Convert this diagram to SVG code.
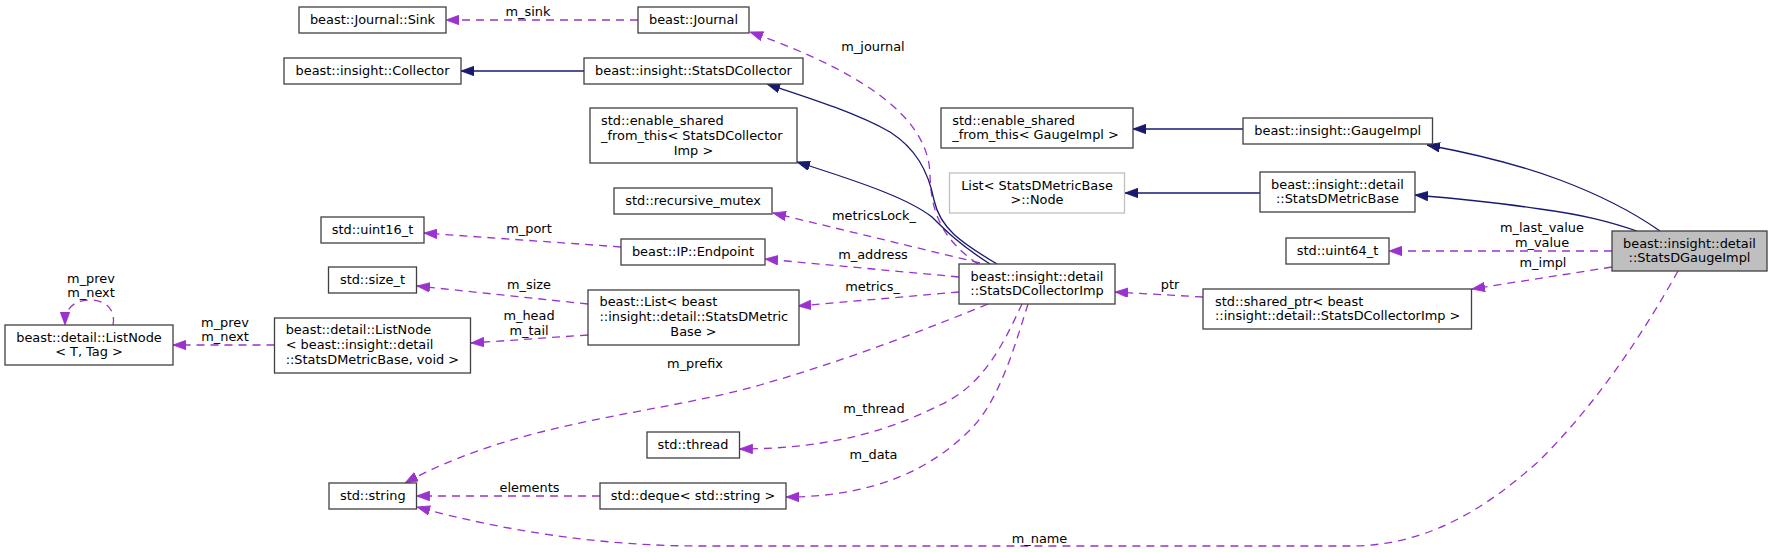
<svg xmlns="http://www.w3.org/2000/svg" width="1772" height="552" viewBox="0 0 1772 552">
<style>
text{font-family:"DejaVu Sans","Liberation Sans",sans-serif;font-size:12.9px;fill:#000}
.c{text-anchor:middle}
.l{text-anchor:start}
.n rect{fill:#fff;stroke:#404040;stroke-width:1.3}
.u{fill:none;stroke:#9a32cd;stroke-width:1.3;stroke-dasharray:8,6;marker-end:url(#ap)}
.i{fill:none;stroke:#191970;stroke-width:1.3;marker-end:url(#an)}
</style>
<defs>
<marker id="ap" markerUnits="userSpaceOnUse" markerWidth="14" markerHeight="10" refX="13" refY="4.75" orient="auto"><path d="M0,0 L13,4.75 L0,9.5 z" fill="#9a32cd" stroke="#9a32cd" stroke-width="0.8"/></marker>
<marker id="an" markerUnits="userSpaceOnUse" markerWidth="14" markerHeight="10" refX="13" refY="4.75" orient="auto"><path d="M0,0 L13,4.75 L0,9.5 z" fill="#191970" stroke="#191970" stroke-width="0.8"/></marker>
</defs>
<rect width="1772" height="552" fill="#fff"/>
<g id="connectors">
<path class="u" d="M638,20 L446,20"/>
<text class="c" x="528" y="16">m_sink</text>
<path class="u" d="M978,264 C940,238 931,210 930,175 C929,125 880,78 750,32"/>
<text class="c" x="873" y="51">m_journal</text>
<path class="i" d="M584,71 L461,71"/>
<path class="i" d="M997,264 C960,242 940,228 934,200 C928,170 915,148 890,132 C855,112 800,95 767,84"/>
<path class="i" d="M990,264 C960,245 945,230 932,217 C910,200 870,185 797,162"/>
<path class="u" d="M980,263 L773,213"/>
<text class="c" x="874" y="220">metricsLock_</text>
<path class="u" d="M959,277 L765,259"/>
<text class="c" x="873" y="259">m_address</text>
<path class="u" d="M959,292 L798,306"/>
<text class="c" x="872.5" y="291">metrics_</text>
<path class="u" d="M621,247 L424,233"/>
<text class="c" x="529" y="233">m_port</text>
<path class="u" d="M588,304 L417,286"/>
<text class="c" x="529" y="288.5">m_size</text>
<path class="u" d="M588,335 L471,343"/>
<text class="c" x="529" y="319.5">m_head</text>
<text class="c" x="529" y="334.5">m_tail</text>
<path class="u" d="M274.5,345 L173,345"/>
<text class="c" x="225" y="327">m_prev</text>
<text class="c" x="225" y="341">m_next</text>
<path class="u" d="M113,325 C116,310 106,300 90,300 C74,300 65,308 65,325"/>
<text class="c" x="91" y="282.5">m_prev</text>
<text class="c" x="91" y="297">m_next</text>
<path class="u" d="M600,496 L416.5,496"/>
<text class="c" x="529.5" y="492">elements</text>
<path class="u" d="M988,304 C900,340 830,365 760,385 C655,415 520,420 405,483"/>
<text class="c" x="695" y="367.5">m_prefix</text>
<path class="u" d="M1022,304 C1005,340 985,385 940,405 C900,425 840,449 739.5,449"/>
<text class="c" x="874" y="412.5">m_thread</text>
<path class="u" d="M1028,304 C1015,345 1000,400 970,430 C935,465 880,497 786,497"/>
<text class="c" x="873.5" y="459">m_data</text>
<path class="u" d="M1678,271 C1645,330 1600,400 1540,460 C1490,505 1430,546 1350,546 L700,546 C600,546 500,530 417,507"/>
<text class="c" x="1039.5" y="542.5">m_name</text>
<path class="u" d="M1203,297 L1115,292"/>
<text class="c" x="1170" y="288.5">ptr</text>
<path class="u" d="M1612,251 L1389,251"/>
<text class="c" x="1542" y="231.5">m_last_value</text>
<text class="c" x="1542" y="246.5">m_value</text>
<path class="u" d="M1612,267 L1472,289"/>
<text class="c" x="1543" y="266.5">m_impl</text>
<path class="i" d="M1660,231 C1630,210 1600,195 1560,180 C1520,165 1470,153 1427,145"/>
<path class="i" d="M1637,231 C1610,222 1585,215 1540,209 C1500,203 1450,198 1415,195"/>
<path class="i" d="M1243,129 L1133,129"/>
<path class="i" d="M1260,193 L1125,193"/>
</g>
<g id="n_sink" class="n"><rect x="299" y="7" width="147" height="26"/><text class="c" x="372.5" y="23.5">beast::Journal::Sink</text></g>
<g id="n_journal" class="n"><rect x="638" y="7" width="111" height="26"/><text class="c" x="693.5" y="23.5">beast::Journal</text></g>
<g id="n_collector" class="n"><rect x="284" y="58" width="177" height="26"/><text class="c" x="372.5" y="74.5">beast::insight::Collector</text></g>
<g id="n_statsdcollector" class="n"><rect x="584" y="58" width="219" height="26"/><text class="c" x="693.5" y="74.5">beast::insight::StatsDCollector</text></g>
<g id="n_esf_collimp" class="n"><rect x="590" y="108" width="207" height="55"/><text class="l" x="601" y="124.5">std::enable_shared</text><text class="l" x="601" y="139.5">_from_this&lt; StatsDCollector</text><text class="c" x="693.5" y="154.5">Imp &gt;</text></g>
<g id="n_recmutex" class="n"><rect x="614" y="188" width="158" height="26"/><text class="c" x="693" y="204.5">std::recursive_mutex</text></g>
<g id="n_uint16" class="n"><rect x="321" y="217" width="103" height="26"/><text class="c" x="372.5" y="233.5">std::uint16_t</text></g>
<g id="n_endpoint" class="n"><rect x="621" y="239" width="144" height="26"/><text class="c" x="693" y="255.5">beast::IP::Endpoint</text></g>
<g id="n_sizet" class="n"><rect x="328.5" y="267" width="88" height="26"/><text class="c" x="372.5" y="283.5">std::size_t</text></g>
<g id="n_list" class="n"><rect x="588" y="290" width="211" height="55"/><text class="l" x="599.5" y="306">beast::List&lt; beast</text><text class="l" x="599.5" y="321">::insight::detail::StatsDMetric</text><text class="c" x="693.5" y="335.5">Base &gt;</text></g>
<g id="n_listnode_t" class="n"><rect x="5" y="325" width="168" height="40"/><text class="c" x="89" y="341.5">beast::detail::ListNode</text><text class="c" x="89" y="356">&lt; T, Tag &gt;</text></g>
<g id="n_listnode_void" class="n"><rect x="274.5" y="318" width="196" height="55"/><text class="l" x="285.7" y="334">beast::detail::ListNode</text><text class="l" x="285.7" y="349">&lt; beast::insight::detail</text><text class="l" x="285.7" y="363.5">::StatsDMetricBase, void &gt;</text></g>
<g id="n_thread" class="n"><rect x="647" y="432" width="92.5" height="26"/><text class="c" x="693" y="448.5">std::thread</text></g>
<g id="n_string" class="n"><rect x="329" y="483" width="87.5" height="26"/><text class="c" x="372.75" y="499.5">std::string</text></g>
<g id="n_deque" class="n"><rect x="600" y="483" width="186" height="26"/><text class="c" x="693" y="499.5">std::deque&lt; std::string &gt;</text></g>
<g id="n_collimp" class="n"><rect x="959" y="264" width="156" height="40"/><text class="c" x="1037" y="280.5">beast::insight::detail</text><text class="c" x="1037" y="295">::StatsDCollectorImp</text></g>
<g id="n_esf_gauge" class="n"><rect x="941" y="108" width="192" height="40"/><text class="l" x="952.3" y="124.5">std::enable_shared</text><text class="l" x="952.3" y="139">_from_this&lt; GaugeImpl &gt;</text></g>
<g id="n_listnode_node" class="n"><rect x="949.5" y="173" width="175" height="40" style="stroke:#bfbfbf"/><text class="c" x="1037" y="189.5">List&lt; StatsDMetricBase</text><text class="c" x="1037" y="204">&gt;::Node</text></g>
<g id="n_gaugeimpl" class="n"><rect x="1243" y="118" width="189.5" height="26"/><text class="c" x="1337.75" y="134.5">beast::insight::GaugeImpl</text></g>
<g id="n_metricbase" class="n"><rect x="1260" y="172" width="155" height="40"/><text class="c" x="1337.5" y="188.5">beast::insight::detail</text><text class="c" x="1337.5" y="203">::StatsDMetricBase</text></g>
<g id="n_uint64" class="n"><rect x="1286" y="238" width="103" height="26"/><text class="c" x="1337.5" y="254.5">std::uint64_t</text></g>
<g id="n_sharedptr" class="n"><rect x="1203" y="289" width="268.5" height="40"/><text class="l" x="1215" y="305.5">std::shared_ptr&lt; beast</text><text class="l" x="1215" y="320">::insight::detail::StatsDCollectorImp &gt;</text></g>
<g id="n_gauge" class="n"><rect x="1612" y="231" width="155" height="40" style="fill:#bfbfbf"/><text class="c" x="1689.5" y="247.5">beast::insight::detail</text><text class="c" x="1689.5" y="262">::StatsDGaugeImpl</text></g>
</svg>
